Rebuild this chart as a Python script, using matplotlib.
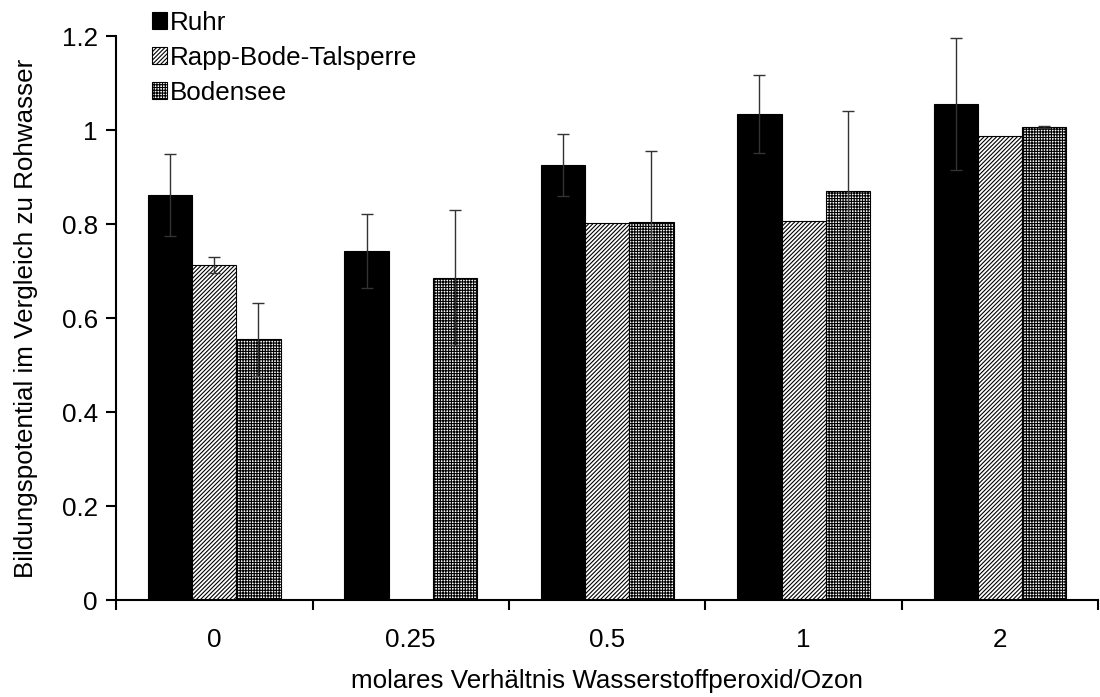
import numpy as np
import matplotlib
matplotlib.use('Agg')
from matplotlib import pyplot as plt

plt.rcParams['font.family'] = ['Liberation Sans', 'DejaVu Sans']
plt.rcParams['hatch.linewidth'] = 0.8

categories = ['0', '0.25', '0.5', '1', '2']
series = ['Ruhr', 'Rapp-Bode-Talsperre', 'Bodensee']
ruhr = [0.862, 0.743, 0.926, 1.034, 1.056]
ruhr_err = [0.087, 0.079, 0.066, 0.083, 0.140]
rapp = [0.713, 0.0, 0.803, 0.807, 0.987]
rapp_err = [0.017, 0.0, 0.0, 0.0, 0.0]
boden = [0.555, 0.686, 0.805, 0.870, 1.006]
boden_err = [0.077, 0.144, 0.150, 0.170, 0.002]

fs = 18.7
fig = plt.figure(figsize=(11, 6.97), dpi=100)
ax = fig.add_axes([0.1055, 0.139, 0.893, 0.809])

x = np.arange(len(categories))
w = 0.225
styles = [dict(color='black', edgecolor='black'),
          dict(color='white', edgecolor='black', hatch='////////'),
          dict(color='white', edgecolor='black', hatch='++++++')]
vals = [ruhr, rapp, boden]
errs = [ruhr_err, rapp_err, boden_err]
for i in range(3):
    v = np.array(vals[i])
    e = np.array(errs[i])
    pos = x + (i - 1) * w
    ax.bar(pos, v, w, label=series[i], linewidth=0.8, **styles[i])
    m = e > 0
    ax.errorbar(pos[m], v[m], yerr=e[m], fmt='none', ecolor='#333333',
                elinewidth=1.0, capsize=4, capthick=1.0)

ax.set_xlim(-0.5, 4.5)
ax.set_ylim(0, 1.2)
ax.set_yticks([0, 0.2, 0.4, 0.6, 0.8, 1.0, 1.2])
ax.set_yticklabels(['0', '0.2', '0.4', '0.6', '0.8', '1', '1.2'])
ax.set_xticks(x)
ax.set_xticklabels(categories)
ax.set_xticks(np.arange(-0.5, 5, 1), minor=True)
ax.tick_params(axis='x', which='major', length=0, pad=20, labelsize=fs)
ax.tick_params(axis='x', which='minor', length=7, width=1.5)
ax.tick_params(axis='y', length=7, width=1.5, labelsize=fs, pad=6)
for s in ['top', 'right']:
    ax.spines[s].set_visible(False)
for s in ['left', 'bottom']:
    ax.spines[s].set_linewidth(1.5)

ax.set_xlabel('molares Verhältnis Wasserstoffperoxid/Ozon', fontsize=fs, labelpad=12)
ax.set_ylabel('Bildungspotential im Vergleich zu Rohwasser', fontsize=fs, labelpad=17)

fig.legend(loc='upper left', bbox_to_anchor=(0.126, 1.003), frameon=False,
           fontsize=fs, handlelength=0.6, handleheight=0.6, handletextpad=0.1,
           labelspacing=0.42, borderaxespad=0.1)

plt.savefig('out.png')
